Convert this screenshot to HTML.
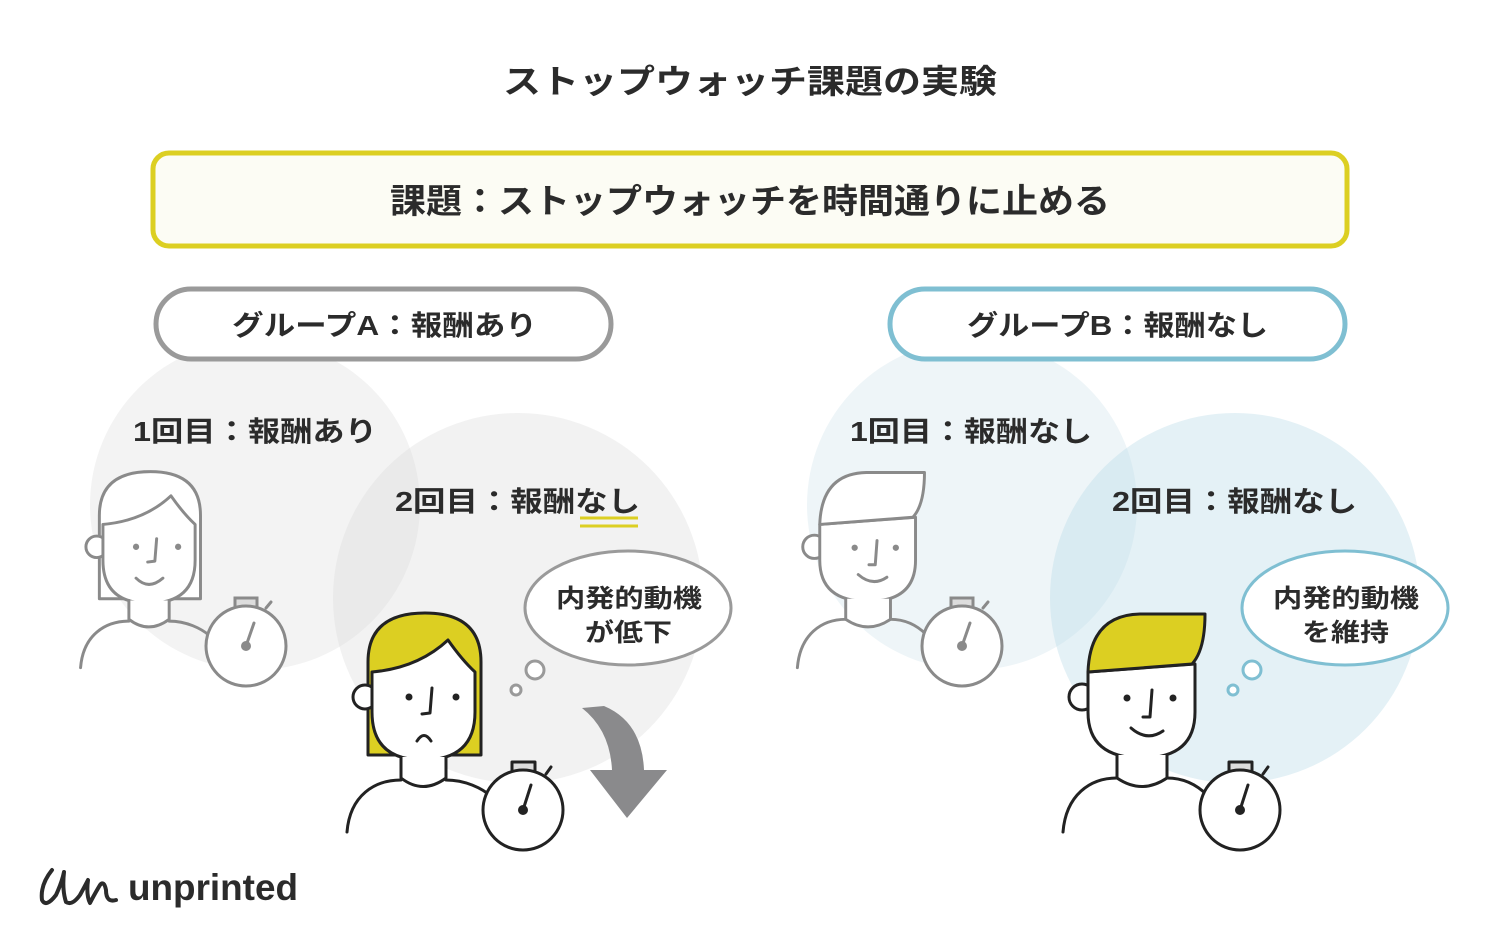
<!DOCTYPE html>
<html><head><meta charset="utf-8"><style>
html,body{margin:0;padding:0;background:#fff}
svg{display:block}
text{font-family:"Liberation Sans","Noto Sans CJK JP",sans-serif;font-weight:bold;fill:#2b2b2b}
</style></head><body>
<svg width="1500" height="938" viewBox="0 0 1500 938" xmlns="http://www.w3.org/2000/svg">
<defs>
<g id="woman">
  <path d="M368,755 L368,662 Q368,613 425,613 Q481,613 481,662 L481,755 Z" style="fill:var(--h)"/>
  <circle cx="365" cy="697" r="12" fill="#fff"/>
  <path d="M372,672 Q418,668 448,640 Q462,660 475,672 L475,712 Q475,760 423,760 Q372,760 372,712 Z" fill="#fff"/>
  <path d="M401,757 L401,778 Q423,795 446,778 L446,757" fill="#fff"/>
  <path d="M347,832 C350,795 375,780 401,780 M446,780 C465,780 482,788 492,797" fill="none"/>
  <circle cx="409" cy="697" r="3.5" style="fill:var(--s)" stroke="none"/>
  <circle cx="456" cy="697" r="3.5" style="fill:var(--s)" stroke="none"/>
  <polyline points="432,688 430,713 422,714" fill="none"/>
</g>
<g id="man">
  <circle cx="1082" cy="697" r="13" fill="#fff"/>
  <path d="M1088,672 L1195,664 L1195,712 Q1195,758 1142,758 Q1088,758 1088,712 Z" fill="#fff"/>
  <path d="M1088,672 Q1090,615 1140,614 L1205,614 Q1205,650 1192,664 Z" style="fill:var(--h)"/>
  <path d="M1117,755 L1117,778 Q1142,795 1167,778 L1167,755" fill="#fff"/>
  <path d="M1063,832 C1066,795 1090,778 1117,778 M1167,778 C1185,778 1198,786 1207,795" fill="none"/>
  <circle cx="1127" cy="698" r="3.5" style="fill:var(--s)" stroke="none"/>
  <circle cx="1173" cy="698" r="3.5" style="fill:var(--s)" stroke="none"/>
  <polyline points="1152,690 1150,717 1143,717" fill="none"/>
  <path d="M1131,728 Q1147,742 1163,731" fill="none"/>
</g>
</defs>

<circle cx="255" cy="505" r="165" fill="#f3f3f3"/>
<circle cx="518" cy="598" r="185" fill="#d9d9d9" opacity="0.35"/>
<circle cx="972" cy="505" r="165" fill="#eef5f8"/>
<circle cx="1235" cy="598" r="185" fill="#b7dbe8" opacity="0.38"/>

<text x="503" y="93" font-size="33" textLength="494" lengthAdjust="spacingAndGlyphs">ストップウォッチ課題の実験</text>

<rect x="153" y="153" width="1194" height="93" rx="16" fill="#fcfcf4" stroke="#dccf22" stroke-width="5"/>
<text x="390" y="213" font-size="34" textLength="720" lengthAdjust="spacingAndGlyphs">課題：ストップウォッチを時間通りに止める</text>

<rect x="156" y="289" width="455" height="70" rx="35" fill="#fff" stroke="#9a9a9a" stroke-width="5"/>
<text x="232" y="335" font-size="28" textLength="305" lengthAdjust="spacingAndGlyphs">グループA：報酬あり</text>
<rect x="890" y="289" width="455" height="70" rx="35" fill="#fff" stroke="#7fbfd2" stroke-width="5"/>
<text x="967" y="335" font-size="28" textLength="301" lengthAdjust="spacingAndGlyphs">グループB：報酬なし</text>

<text x="133" y="441" font-size="28" textLength="244" lengthAdjust="spacingAndGlyphs">1回目：報酬あり</text>
<text x="395" y="511" font-size="28" textLength="245" lengthAdjust="spacingAndGlyphs">2回目：報酬なし</text>
<line x1="580" y1="518" x2="638" y2="518" stroke="#dccf22" stroke-width="3"/>
<line x1="580" y1="526" x2="638" y2="526" stroke="#dccf22" stroke-width="3"/>
<text x="850" y="441" font-size="28" textLength="242" lengthAdjust="spacingAndGlyphs">1回目：報酬なし</text>
<text x="1112" y="511" font-size="28" textLength="245" lengthAdjust="spacingAndGlyphs">2回目：報酬なし</text>

<!-- gray woman -->
<g transform="translate(-230,-77) scale(0.895)" style="--h:#fff;--s:#8a8a8a" stroke="#8a8a8a" stroke-width="3.3" stroke-linejoin="round" stroke-linecap="round">
  <use href="#woman"/>
  <path d="M409,732 Q423,746 439,732" fill="none"/>
</g>
<g fill="#fff" stroke="#8a8a8a" stroke-width="3" stroke-linecap="round">
  <rect x="235" y="598" width="22" height="10" fill="#ddd"/>
  <line x1="266" y1="608" x2="271" y2="602"/>
  <circle cx="246" cy="646" r="40"/>
  <line x1="246" y1="646" x2="254" y2="623"/>
  <circle cx="246" cy="646" r="5" fill="#8a8a8a" stroke="none"/>
</g>

<!-- yellow woman -->
<g style="--h:#dccf22;--s:#222" stroke="#222" stroke-width="3" stroke-linejoin="round" stroke-linecap="round">
  <use href="#woman"/>
  <path d="M417,741 Q424,730 431,741" fill="none"/>
  <rect x="512" y="762" width="23" height="10" fill="#ddd"/>
  <line x1="546" y1="774" x2="551" y2="767"/>
  <circle cx="523" cy="810" r="40" fill="#fff"/>
  <line x1="523" y1="810" x2="531" y2="785"/>
  <circle cx="523" cy="810" r="5" fill="#222" stroke="none"/>
</g>

<ellipse cx="628" cy="608" rx="103" ry="57" fill="#fff" stroke="#9a9a9a" stroke-width="3"/>
<circle cx="535" cy="670" r="9" fill="#fff" stroke="#9a9a9a" stroke-width="3"/>
<circle cx="516" cy="690" r="5" fill="#fff" stroke="#9a9a9a" stroke-width="3"/>
<text x="556" y="607" font-size="25" textLength="146" lengthAdjust="spacingAndGlyphs">内発的動機</text>
<text x="585" y="641" font-size="25" textLength="87" lengthAdjust="spacingAndGlyphs">が低下</text>

<path d="M582,708 L604,706 Q642,722 644,770 L667,770 L627,818 L590,770 L612,770 Q610,730 582,708 Z" fill="#8a8a8c"/>

<!-- gray man -->
<g transform="translate(-154,-77) scale(0.895)" style="--h:#fff;--s:#8a8a8a" stroke="#8a8a8a" stroke-width="3.3" stroke-linejoin="round" stroke-linecap="round">
  <use href="#man"/>
</g>
<g fill="#fff" stroke="#8a8a8a" stroke-width="3" stroke-linecap="round">
  <rect x="951" y="598" width="22" height="10" fill="#ddd"/>
  <line x1="983" y1="608" x2="988" y2="602"/>
  <circle cx="962" cy="646" r="40"/>
  <line x1="962" y1="646" x2="970" y2="623"/>
  <circle cx="962" cy="646" r="5" fill="#8a8a8a" stroke="none"/>
</g>

<!-- yellow man -->
<g style="--h:#dccf22;--s:#222" stroke="#222" stroke-width="3" stroke-linejoin="round" stroke-linecap="round">
  <use href="#man"/>
  <rect x="1229" y="762" width="23" height="10" fill="#ddd"/>
  <line x1="1263" y1="774" x2="1268" y2="767"/>
  <circle cx="1240" cy="810" r="40" fill="#fff"/>
  <line x1="1240" y1="810" x2="1248" y2="785"/>
  <circle cx="1240" cy="810" r="5" fill="#222" stroke="none"/>
</g>

<ellipse cx="1345" cy="608" rx="103" ry="57" fill="#fff" stroke="#7fbfd2" stroke-width="3"/>
<circle cx="1252" cy="670" r="9" fill="#fff" stroke="#7fbfd2" stroke-width="3"/>
<circle cx="1233" cy="690" r="5" fill="#fff" stroke="#7fbfd2" stroke-width="3"/>
<text x="1273" y="607" font-size="25" textLength="146" lengthAdjust="spacingAndGlyphs">内発的動機</text>
<text x="1302" y="641" font-size="25" textLength="87" lengthAdjust="spacingAndGlyphs">を維持</text>

<path d="M52,870 Q40,885 42,900 Q46,908 56,895 Q62,882 64,872 Q62,890 66,902 Q72,906 80,895 Q86,884 88,880 Q86,895 90,903 Q94,895 100,885 Q104,880 106,890 Q106,903 116,900" fill="none" stroke="#2b2b2b" stroke-width="4" stroke-linecap="round" stroke-linejoin="round"/>
<text x="128" y="900" font-size="37" textLength="170" lengthAdjust="spacingAndGlyphs">unprinted</text>
</svg>
</body></html>
